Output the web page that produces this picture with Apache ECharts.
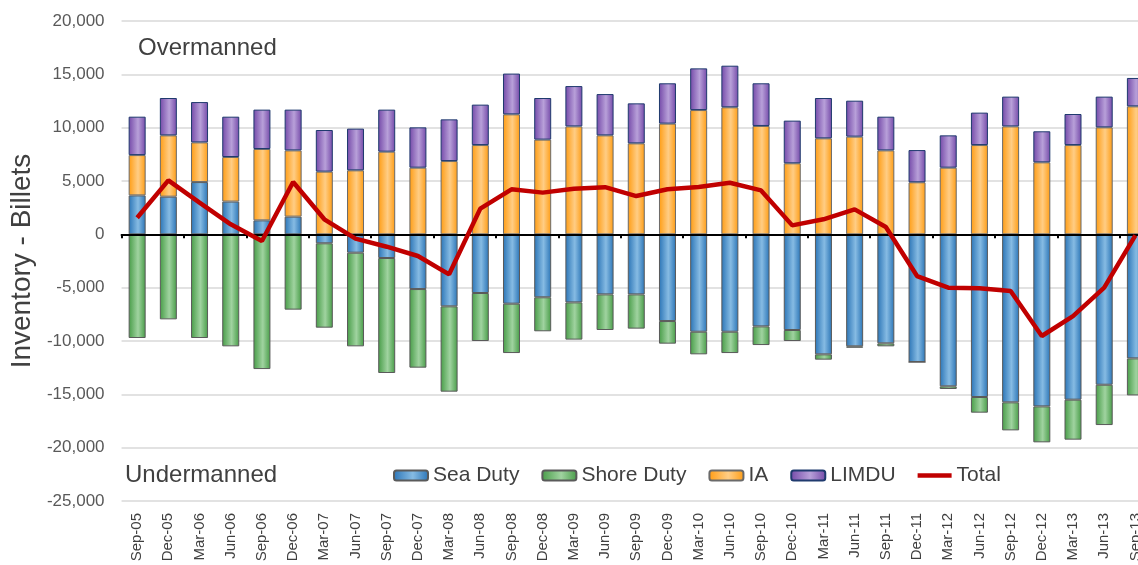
<!DOCTYPE html>
<html>
<head>
<meta charset="utf-8">
<title>Inventory - Billets</title>
<script src="https://cdn.jsdelivr.net/npm/echarts@6/dist/echarts.min.js"></script>
<style>
html, body { margin: 0; padding: 0; background: #fff; overflow: hidden; }
/* plot runs past the right edge of the window, as in the original */
#myChart { width: 1151px; height: 565px; }
</style>
</head>
<body>
<div id="myChart"></div>
<script>
const categories = ['Sep-05','Dec-05','Mar-06','Jun-06','Sep-06','Dec-06','Mar-07','Jun-07','Sep-07','Dec-07',
    'Mar-08','Jun-08','Sep-08','Dec-08','Mar-09','Jun-09','Sep-09','Dec-09','Mar-10','Jun-10','Sep-10','Dec-10',
    'Mar-11','Jun-11','Sep-11','Dec-11','Mar-12','Jun-12','Sep-12','Dec-12','Mar-13','Jun-13','Sep-13'];

const seaDuty = [3650, 3530, 4900, 3070, 1310, 1660, -840, -1720, -2220, -5130, -6750, -5500, -6500, -5900,
    -6380, -5630, -5630, -8130, -9130, -9130, -8630, -8970, -11250, -10500, -10220, -11970, -14250, -15250,
    -15750, -16130, -15500, -14100, -11630];

const shoreDuty = [-9720, -7970, -9720, -10500, -12630, -7060, -7910, -8780, -10780, -7370, -8000, -4500,
    -4630, -3190, -3490, -3340, -3210, -2120, -2120, -2000, -1750, -1030, -500, -130, -280, 0, -250, -1470,
    -2630, -3370, -3750, -3780, -3470];

const ia = [3780, 5750, 3720, 4180, 6690, 6210, 5880, 6000, 7750, 6250, 6870, 8370, 11250, 8880, 10120, 9280,
    8530, 10380, 11650, 11910, 10160, 6660, 9000, 9160, 7870, 4880, 6250, 8370, 10120, 6750, 8370, 10030, 12000];

const limdu = [3600, 3500, 3780, 3780, 3690, 3820, 3900, 3910, 3940, 3780, 3910, 3790, 3820, 3900, 3780, 3870,
    3750, 3780, 3910, 3900, 4000, 4000, 3780, 3370, 3160, 3020, 3030, 3040, 2790, 2910, 2910, 2880, 2660];

const total = [1560, 5060, 2970, 940, -630, 4900, 1410, -400, -1160, -2030, -3750, 2410, 4220, 3910, 4280, 4420,
    3590, 4220, 4440, 4840, 4120, 840, 1410, 2340, 690, -3910, -5000, -5060, -5310, -9530, -7660, -5000, -100];

const yTicks = { min: -25000, max: 20000, interval: 5000 };

const font = "'Liberation Sans', Arial, sans-serif";

function barFill(edge, light) {
    return new echarts.graphic.LinearGradient(0, 0, 1, 0, [
        { offset: 0, color: edge },
        { offset: 0.55, color: light },
        { offset: 1, color: edge }
    ]);
}

function barSeries(name, data, edge, light, border) {
    return {
        name: name,
        type: 'bar',
        stack: 'inv',
        barWidth: 17,
        data: data,
        itemStyle: {
            color: barFill(edge, light),
            borderColor: border,
            borderWidth: 1
        }
    };
}

const myChart = echarts.init(document.getElementById('myChart'));

const option = {
    animation: false,
    textStyle: { fontFamily: font },
    grid: {
        top: 21,
        left: 120,
        right: 0,
        bottom: 64
    },
    legend: {
        left: 388,
        top: 460,
        itemWidth: 34,
        itemHeight: 10,
        itemGap: 22,
        textStyle: { fontSize: 21, color: '#404040', fontFamily: font },
        data: ['Sea Duty', 'Shore Duty', 'IA', 'LIMDU',
            { name: 'Total', icon: 'path://M0 0H34V4.5H0Z' }]
    },
    graphic: [
        {
            type: 'text', left: 138, top: 36,
            style: { text: 'Overmanned', fontSize: 24, fill: '#404040', fontFamily: font }
        },
        {
            type: 'text', left: 125, top: 463,
            style: { text: 'Undermanned', fontSize: 24, fill: '#404040', fontFamily: font }
        }
    ],
    xAxis: [
        {
            type: 'category',
            data: categories,
            position: 'bottom',
            axisLine: { show: false, onZero: false },
            axisTick: { show: false },
            axisLabel: {
                rotate: 90,
                interval: 0,
                margin: 12,
                fontSize: 15,
                color: '#404040'
            },
            splitLine: { show: false }
        },
        {
            type: 'category',
            data: categories,
            position: 'bottom',
            z: 5,
            axisLine: { onZero: true, lineStyle: { color: '#000', width: 2 } },
            axisTick: { show: true, length: 4, lineStyle: { color: '#000', width: 2 } },
            axisLabel: { show: false },
            splitLine: { show: false }
        }
    ],
    yAxis: {
        type: 'value',
        min: yTicks.min,
        max: yTicks.max,
        interval: yTicks.interval,
        name: 'Inventory - Billets',
        nameLocation: 'middle',
        nameGap: 84,
        nameTextStyle: { fontSize: 28, color: '#404040' },
        axisLine: { show: false },
        axisTick: { show: false },
        axisLabel: {
            margin: 17,
            fontSize: 17,
            color: '#595959',
            formatter: (v) => v.toLocaleString('en-US')
        },
        splitLine: { lineStyle: { color: '#d9d9d9', width: 1.5 } }
    },
    series: [
        barSeries('Sea Duty', seaDuty, '#2a74b6', '#86bbe3', '#5a5a5a'),
        barSeries('Shore Duty', shoreDuty, '#479c47', '#a0d3a0', '#5a5a5a'),
        barSeries('IA', ia, '#ff9c12', '#ffcd85', '#6a6a6a'),
        barSeries('LIMDU', limdu, '#7449a8', '#b8a0d9', '#1f3a6e'),
        {
            name: 'Total',
            type: 'line',
            data: total,
            z: 10,
            symbol: 'none',
            color: '#c00000',
            lineStyle: { color: '#c00000', width: 4.5 }
        }
    ]
};

myChart.setOption(option);

window.addEventListener('resize', () => {
    myChart.resize();
});
</script>
</body>
</html>
